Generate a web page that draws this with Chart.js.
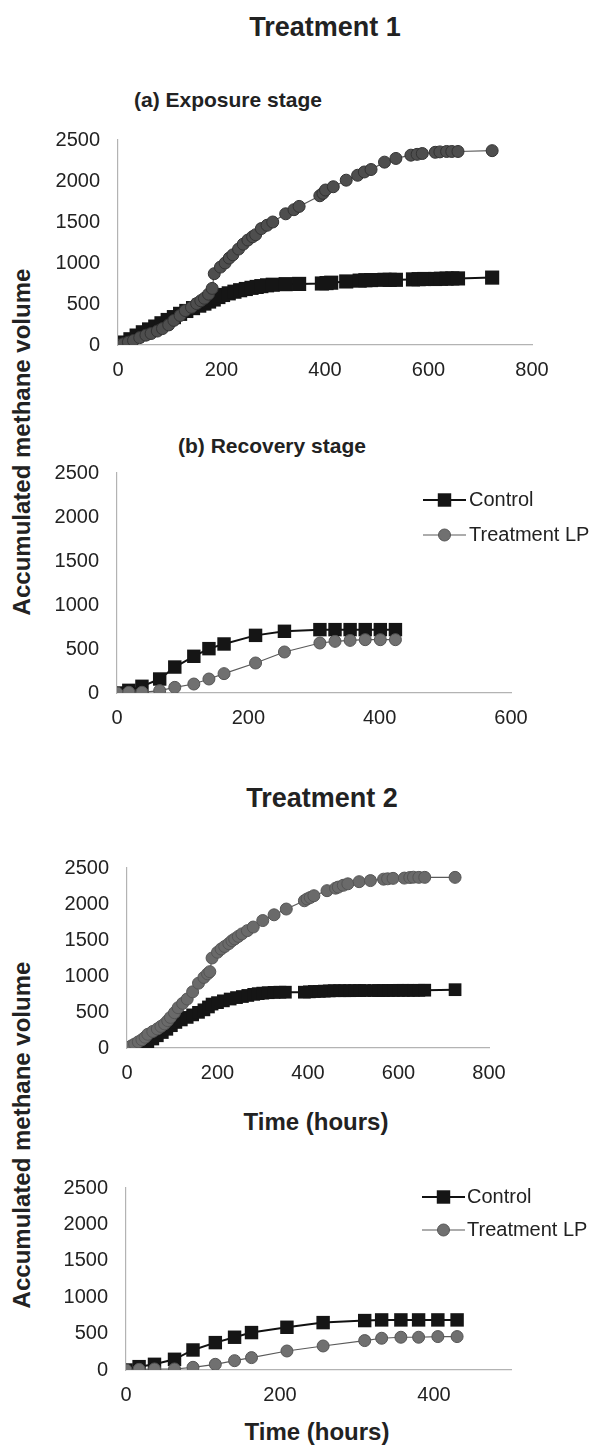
<!DOCTYPE html>
<html lang="en">
<head>
<meta charset="UTF-8">
<title>Accumulated methane volume</title>
<script src="https://cdn.jsdelivr.net/npm/chart.js"></script>
<style>
  body { margin: 0; background: #fff; font-family: "Liberation Sans", Arial, sans-serif; color: #222; }
  #page { position: relative; width: 594px; height: 1447px; overflow: hidden; }
  canvas { position: absolute; left: 0; }
  .txt { position: absolute; font-weight: bold; white-space: nowrap; line-height: 1; }
  .mid { transform: translate(-50%, -50%); }
  .vmid { transform: translateY(-50%); }
  .ylab { transform: translate(-50%, -50%) rotate(-90deg); }
</style>
</head>
<body>
<div id="page">
  <div class="txt mid" style="left:325px;top:27px;font-size:27px">Treatment 1</div>
  <div class="txt vmid" style="left:134px;top:99px;font-size:21px">(a) Exposure stage</div>
  <div class="txt vmid" style="left:178px;top:445px;font-size:21px">(b) Recovery stage</div>
  <div class="txt mid" style="left:322px;top:798px;font-size:27px">Treatment 2</div>
  <div class="txt mid" style="left:316px;top:1122px;font-size:24px">Time (hours)</div>
  <div class="txt mid" style="left:317px;top:1432px;font-size:24px">Time (hours)</div>
  <div class="txt ylab" style="left:22px;top:442px;font-size:24px">Accumulated methane volume</div>
  <div class="txt ylab" style="left:22px;top:1135px;font-size:24px">Accumulated methane volume</div>

  <canvas id="chartA" width="594" height="270" style="top:120px"></canvas>
  <canvas id="chartB" width="594" height="285" style="top:453px"></canvas>
  <canvas id="chartC" width="594" height="245" style="top:848px"></canvas>
  <canvas id="chartD" width="594" height="247" style="top:1168px"></canvas>
</div>

<script>
// Treatment 1 (a) exposure stage
const t1ExpCtrlHours = [0, 12, 24, 36, 48, 60, 72, 84, 96, 108, 120, 132, 145, 157, 167, 176, 185, 194, 203, 214, 225, 236, 247, 258, 268, 277, 288, 299, 324, 350, 394, 403, 412, 441, 467, 478, 489, 515, 525, 537, 570, 581, 592, 613, 624, 635, 646, 657, 723];
const t1ExpCtrlVol = [0, 30, 70, 115, 155, 190, 225, 265, 305, 340, 380, 415, 450, 480, 505, 530, 555, 585, 610, 630, 650, 668, 683, 697, 708, 718, 728, 735, 742, 745, 750, 755, 760, 775, 785, 790, 792, 795, 795, 795, 800, 803, 805, 805, 808, 810, 812, 812, 822];
const t1ExpLpHours = [0, 10, 20, 30, 42, 54, 64, 76, 86, 98, 108, 120, 130, 142, 152, 160, 167, 175, 182, 186, 198, 207, 215, 222, 233, 242, 251, 260, 266, 277, 288, 299, 324, 340, 350, 390, 396, 401, 416, 441, 463, 476, 489, 515, 537, 566, 578, 588, 613, 622, 635, 645, 657, 723];
const t1ExpLpVol = [0, 15, 35, 55, 90, 120, 140, 170, 200, 245, 300, 360, 420, 460, 505, 540, 570, 620, 690, 870, 950, 1000, 1060, 1100, 1170, 1230, 1280, 1320, 1345, 1420, 1460, 1500, 1600, 1650, 1690, 1820, 1850, 1890, 1930, 2010, 2070, 2110, 2140, 2230, 2275, 2315, 2325, 2335, 2350, 2355, 2360, 2360, 2360, 2370];

// Treatment 1 (b) recovery stage
const t1RecHours = [0, 18, 38, 65, 88, 117, 140, 163, 211, 255, 309, 332, 355, 378, 401, 424];
const t1RecCtrlVol = [0, 30, 76, 159, 295, 417, 504, 557, 655, 701, 720, 720, 720, 720, 720, 720];
const t1RecLpVol = [0, 8, 8, 27, 64, 102, 159, 220, 341, 466, 568, 587, 598, 606, 606, 606];

// Treatment 2 exposure
const t2ExpCtrlHours = [0, 12, 21, 33, 46, 57, 67, 78, 88, 98, 108, 120, 133, 145, 158, 170, 180, 188, 200, 213, 228, 242, 255, 267, 280, 290, 300, 312, 325, 338, 350, 392, 403, 414, 425, 436, 447, 458, 470, 481, 492, 503, 514, 525, 546, 556, 567, 578, 589, 600, 611, 622, 633, 645, 658, 725];
const t2ExpCtrlVol = [0, 5, 15, 45, 80, 125, 170, 215, 260, 310, 355, 390, 425, 460, 495, 530, 570, 610, 630, 655, 680, 700, 715, 730, 745, 755, 762, 768, 773, 775, 775, 775, 780, 785, 787, 790, 793, 796, 796, 796, 796, 797, 798, 798, 798, 798, 798, 800, 800, 801, 801, 801, 801, 801, 803, 810];
const t2ExpLpHours = [0, 10, 17, 25, 33, 40, 46, 57, 67, 75, 83, 90, 96, 105, 113, 123, 133, 145, 158, 170, 178, 183, 188, 200, 208, 216, 225, 232, 238, 246, 254, 266, 279, 300, 325, 352, 392, 398, 405, 413, 442, 461, 467, 478, 488, 513, 538, 567, 576, 588, 613, 625, 633, 645, 658, 725];
const t2ExpLpVol = [5, 30, 55, 85, 115, 150, 190, 230, 265, 300, 335, 380, 425, 490, 560, 620, 680, 780, 900, 980, 1030, 1060, 1250, 1330, 1375, 1410, 1450, 1490, 1515, 1550, 1585, 1630, 1680, 1770, 1850, 1930, 2045, 2070, 2090, 2115, 2185, 2220, 2235, 2260, 2280, 2310, 2325, 2345, 2350, 2356, 2360, 2368, 2372, 2370, 2370, 2370];

// Treatment 2 recovery
const t2RecHours = [0, 17, 37, 63, 87, 116, 141, 163, 209, 256, 310, 332, 357, 380, 405, 430];
const t2RecCtrlVol = [0, 46, 78, 147, 275, 376, 450, 514, 587, 651, 679, 688, 688, 688, 688, 688];
const t2RecLpVol = [0, 9, 14, 14, 37, 78, 128, 170, 261, 330, 404, 436, 450, 450, 459, 459];

const yTicks = [0, 500, 1000, 1500, 2000, 2500];
const FONT = '"Liberation Sans", Arial, sans-serif';
Chart.defaults.font.family = FONT;
Chart.defaults.color = '#222';

const pts = (xs, ys) => xs.map((x, i) => ({ x: x, y: ys[i] }));

function legendPlugin(rows, lx1, lx2, tx) {
  return {
    id: 'miniLegend',
    afterDraw(chart) {
      const ctx = chart.ctx;
      ctx.save();
      rows.forEach((y, i) => {
        const ds = chart.data.datasets[i];
        ctx.strokeStyle = ds.borderColor;
        ctx.lineWidth = ds.borderWidth;
        ctx.beginPath();
        ctx.moveTo(lx1, y);
        ctx.lineTo(lx2, y);
        ctx.stroke();
        const cx = (lx1 + lx2) / 2;
        ctx.fillStyle = ds.pointBackgroundColor;
        ctx.strokeStyle = ds.pointBorderColor;
        ctx.lineWidth = 1;
        if (ds.pointStyle === 'rect') {
          const h = ds.pointRadius * Math.SQRT1_2;
          ctx.fillRect(cx - h, y - h, 2 * h, 2 * h);
        } else {
          ctx.beginPath();
          ctx.arc(cx, y, ds.pointRadius, 0, Math.PI * 2);
          ctx.fill();
          ctx.stroke();
        }
        ctx.fillStyle = '#222';
        ctx.font = '20px ' + FONT;
        ctx.textBaseline = 'middle';
        ctx.textAlign = 'left';
        ctx.fillText(ds.label, tx, y);
      });
      ctx.restore();
    }
  };
}

function makeChart(id, cfg) {
  const plugins = cfg.legend ? [legendPlugin(cfg.legend.rows, cfg.legend.x1, cfg.legend.x2, cfg.legend.tx)] : [];
  return new Chart(document.getElementById(id), {
    type: 'scatter',
    data: {
      datasets: [
        {
          label: 'Control',
          data: pts(cfg.ctrlX, cfg.ctrlY),
          showLine: true,
          borderColor: '#111',
          borderWidth: 2,
          pointStyle: 'rect',
          pointRadius: cfg.sq,
          pointBackgroundColor: '#151515',
          pointBorderColor: '#151515',
          pointBorderWidth: 0,
          order: 2
        },
        {
          label: 'Treatment LP',
          data: pts(cfg.lpX, cfg.lpY),
          showLine: true,
          borderColor: '#5a5a5a',
          borderWidth: 1.2,
          pointStyle: 'circle',
          pointRadius: cfg.dot,
          pointBackgroundColor: cfg.dotColor,
          pointBorderColor: cfg.dotEdge,
          pointBorderWidth: 1,
          order: 1
        }
      ]
    },
    options: {
      responsive: false,
      animation: false,
      layout: { padding: { left: 0, right: 594 - cfg.right, top: 20, bottom: 0 } },
      plugins: { legend: { display: false }, tooltip: { enabled: false } },
      scales: {
        x: {
          type: 'linear',
          min: 0,
          max: cfg.xMax,
          grid: { display: false, drawTicks: false },
          border: { display: true, color: '#b3b3b3', width: 1.2 },
          ticks: { stepSize: 200, autoSkip: false, padding: 13, font: { size: 20 }, color: '#222', callback: v => String(v) },
          afterBuildTicks: s => { s.ticks = cfg.xTicks.map(v => ({ value: v })); },
          afterFit: s => { s.height = 45; s.paddingLeft = 0; s.paddingRight = 0; }
        },
        y: {
          min: 0,
          max: 2500,
          grid: { display: false, drawTicks: false },
          border: { display: true, color: '#b3b3b3', width: 1.2 },
          ticks: { stepSize: 500, padding: 18, font: { size: 20 }, color: '#222', callback: v => String(v) },
          afterBuildTicks: s => { s.ticks = yTicks.map(v => ({ value: v })); },
          afterFit: s => { s.width = cfg.left; s.paddingTop = 0; s.paddingBottom = 0; }
        }
      }
    },
    plugins: plugins
  });
}

makeChart('chartA', {
  ctrlX: t1ExpCtrlHours, ctrlY: t1ExpCtrlVol, lpX: t1ExpLpHours, lpY: t1ExpLpVol,
  xMax: 800, xTicks: [0, 200, 400, 600, 800], left: 118, right: 532,
  sq: 10, dot: 6, dotColor: '#4e4e4e', dotEdge: '#333'
});
makeChart('chartB', {
  ctrlX: t1RecHours, ctrlY: t1RecCtrlVol, lpX: t1RecHours, lpY: t1RecLpVol,
  xMax: 600, xTicks: [0, 200, 400, 600], left: 117, right: 511,
  sq: 9.5, dot: 6, dotColor: '#707070', dotEdge: '#555',
  legend: { rows: [47, 82], x1: 423, x2: 466, tx: 469 }
});
makeChart('chartC', {
  ctrlX: t2ExpCtrlHours, ctrlY: t2ExpCtrlVol, lpX: t2ExpLpHours, lpY: t2ExpLpVol,
  xMax: 800, xTicks: [0, 200, 400, 600, 800], left: 127, right: 489,
  sq: 9, dot: 6, dotColor: '#6a6a6a', dotEdge: '#555'
});
makeChart('chartD', {
  ctrlX: t2RecHours, ctrlY: t2RecCtrlVol, lpX: t2RecHours, lpY: t2RecLpVol,
  xMax: 500, xTicks: [0, 200, 400], left: 126, right: 511,
  sq: 9.5, dot: 6, dotColor: '#707070', dotEdge: '#555',
  legend: { rows: [29, 62], x1: 422, x2: 465, tx: 467 }
});
</script>
</body>
</html>
